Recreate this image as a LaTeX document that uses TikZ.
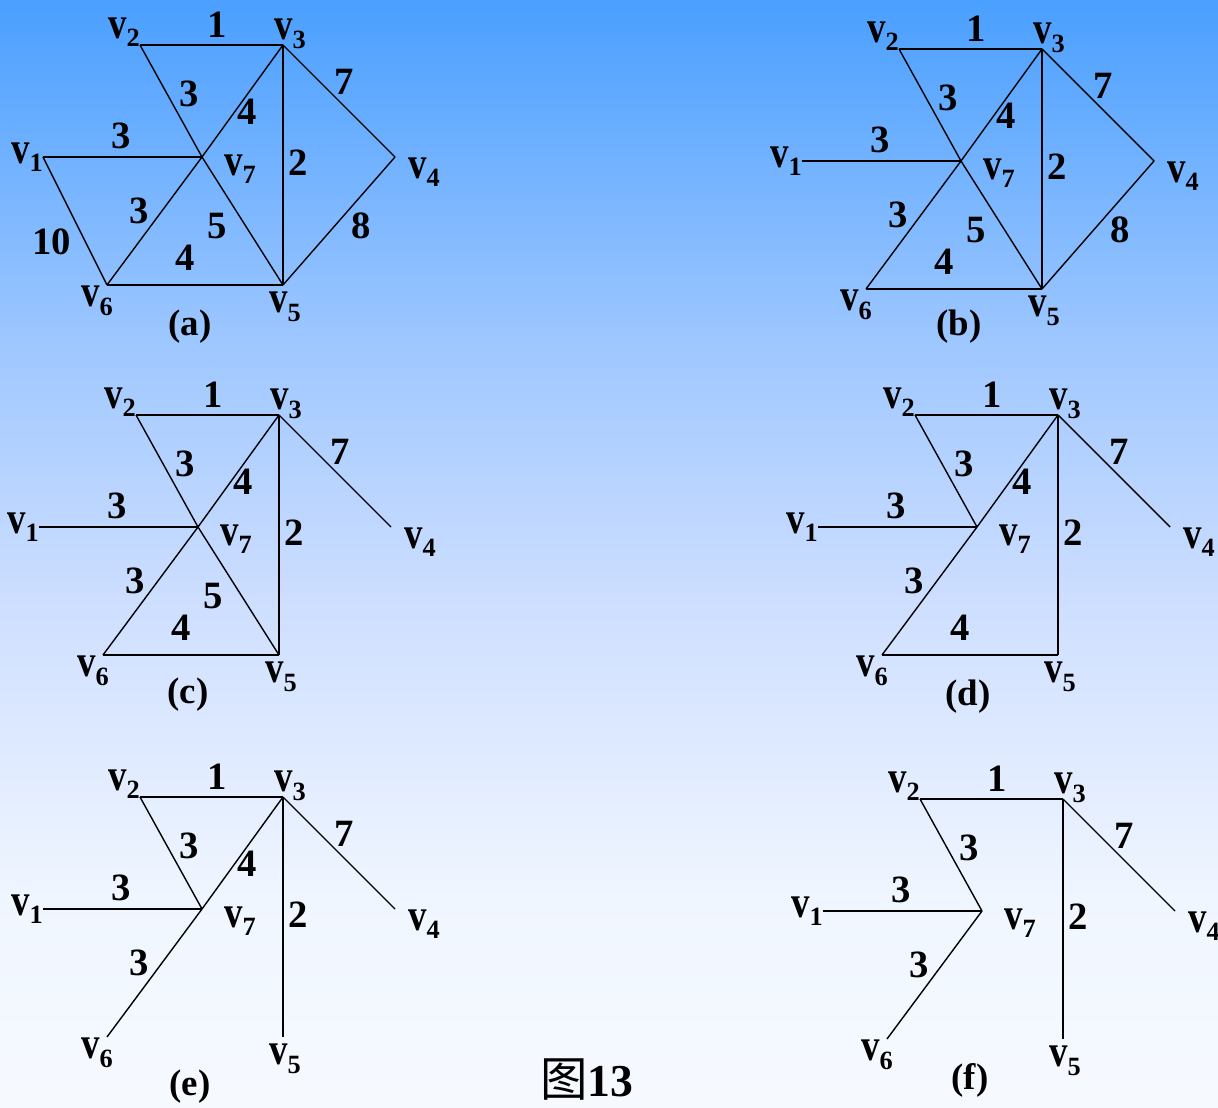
\documentclass[tikz,border=0pt]{standalone}
\usepackage{fontspec}
\setmainfont{Liberation Serif}
\newfontfamily\cjk{Noto Sans CJK SC}
\usepackage{tikz}
\usetikzlibrary{calc}
\definecolor{ink}{RGB}{0,0,0}
\definecolor{bgtop}{RGB}{74,159,255}
\definecolor{bg2}{RGB}{160,200,255}
\definecolor{bg3}{RGB}{205,222,255}
\definecolor{bg4}{RGB}{240,246,255}
\definecolor{bgbot}{RGB}{246,250,255}
\pgfdeclareverticalshading{skyfade}{100bp}{color(0bp)=(bgbot); color(25bp)=(bgbot); color(34.5bp)=(bg4); color(48bp)=(bg3); color(59.2bp)=(bg2); color(75bp)=(bgtop); color(100bp)=(bgtop)}
\tikzset{
  edge/.style={line width=0.8pt,draw=ink},
  vname/.style={inner sep=0pt,font=\bfseries\fontsize{21}{21}\selectfont},
  weight/.style={inner sep=0pt,font=\bfseries\fontsize{22}{22}\selectfont},
  caption/.style={inner sep=0pt,font=\bfseries\fontsize{21}{21}\selectfont}
}
% vertex name with a lowered subscript
\newcommand{\vsub}[1]{\scalebox{1}[1.22]{v}\raisebox{-0.5ex}{\fontsize{15}{15}\selectfont #1}}
% the seven vertices of one panel, names prefixed by #1
\newcommand{\vertices}[1]{%
  \coordinate (#1v1) at (43,157);
  \coordinate (#1v2) at (140,45);
  \coordinate (#1v3) at (283,45);
  \coordinate (#1v4) at (395,157);
  \coordinate (#1v5) at (283,285);
  \coordinate (#1v6) at (107,285);
  \coordinate (#1v7) at (202,157);
  \node[vname] (#1l1) at (27,157) {\vsub{1}};
  \node[vname] (#1l2) at (124,32) {\vsub{2}};
  \node[vname] (#1l3) at (290,34) {\vsub{3}};
  \node[vname] (#1l4) at (424,172) {\vsub{4}};
  \node[vname] (#1l5) at (285,307) {\vsub{5}};
  \node[vname] (#1l6) at (97,301) {\vsub{6}};
  \node[vname] (#1l7) at (240,169) {\vsub{7}};
}
% edge #2--#3 of panel #1, weight #5 written at #4
\newcommand{\edgew}[5]{%
  \draw[edge] (#1v#2) -- (#1v#3);
  \node[weight] (#1w#2#3) at (#4) {#5};
}

\begin{document}
\begin{tikzpicture}[x=0.02cm,y=-0.02cm]
  \useasboundingbox (0,0) rectangle (1218,1108);
  \fill[shading=skyfade] (0,0) rectangle (1218,1108);

  % (a) the whole graph
  \begin{scope}[shift={(0,0)}]
    \vertices{a}
    \edgew{a}{2}{3}{217,25}{1}
    \edgew{a}{2}{7}{189,94}{3}
    \edgew{a}{3}{7}{247,112}{4}
    \edgew{a}{3}{4}{344,82}{7}
    \edgew{a}{1}{7}{121,136}{3}
    \edgew{a}{3}{5}{298,163}{2}
    \edgew{a}{6}{7}{139,211}{3}
    \edgew{a}{5}{7}{217,226}{5}
    \edgew{a}{4}{5}{361,226}{8}
    \edgew{a}{1}{6}{52,242}{10}
    \edgew{a}{5}{6}{185,258}{4}
    \node[caption] (acap) at (190,327) {(a)};
  \end{scope}

  % (b)
  \begin{scope}[shift={(759,4)}]
    \vertices{b}
    \edgew{b}{2}{3}{217,25}{1}
    \edgew{b}{2}{7}{189,94}{3}
    \edgew{b}{3}{7}{247,112}{4}
    \edgew{b}{3}{4}{344,82}{7}
    \edgew{b}{1}{7}{121,136}{3}
    \edgew{b}{3}{5}{298,163}{2}
    \edgew{b}{6}{7}{139,211}{3}
    \edgew{b}{5}{7}{217,226}{5}
    \edgew{b}{4}{5}{361,226}{8}
    \edgew{b}{5}{6}{185,258}{4}
    \node[caption] (bcap) at (200,323) {(b)};
  \end{scope}

  % (c)
  \begin{scope}[shift={(-4,370)}]
    \vertices{c}
    \edgew{c}{2}{3}{217,25}{1}
    \edgew{c}{2}{7}{189,94}{3}
    \edgew{c}{3}{7}{247,112}{4}
    \edgew{c}{3}{4}{344,82}{7}
    \edgew{c}{1}{7}{121,136}{3}
    \edgew{c}{3}{5}{298,163}{2}
    \edgew{c}{6}{7}{139,211}{3}
    \edgew{c}{5}{7}{217,226}{5}
    \edgew{c}{5}{6}{185,258}{4}
    \node[caption] (ccap) at (192,325) {(c)};
  \end{scope}

  % (d)
  \begin{scope}[shift={(775,370)}]
    \vertices{d}
    \edgew{d}{2}{3}{217,25}{1}
    \edgew{d}{2}{7}{189,94}{3}
    \edgew{d}{3}{7}{247,112}{4}
    \edgew{d}{3}{4}{344,82}{7}
    \edgew{d}{1}{7}{121,136}{3}
    \edgew{d}{3}{5}{298,163}{2}
    \edgew{d}{6}{7}{139,211}{3}
    \edgew{d}{5}{6}{185,258}{4}
    \node[caption] (dcap) at (193,327) {(d)};
  \end{scope}

  % (e)
  \begin{scope}[shift={(0,752)}]
    \vertices{e}
    \edgew{e}{2}{3}{217,25}{1}
    \edgew{e}{2}{7}{189,94}{3}
    \edgew{e}{3}{7}{247,112}{4}
    \edgew{e}{3}{4}{344,82}{7}
    \edgew{e}{1}{7}{121,136}{3}
    \edgew{e}{3}{5}{298,163}{2}
    \edgew{e}{6}{7}{139,211}{3}
    \node[caption] (ecap) at (190,335) {(e)};
  \end{scope}

  % (f) the minimum spanning tree
  \begin{scope}[shift={(780,754)}]
    \vertices{f}
    \edgew{f}{2}{3}{217,25}{1}
    \edgew{f}{2}{7}{189,94}{3}
    \edgew{f}{3}{4}{344,82}{7}
    \edgew{f}{1}{7}{121,136}{3}
    \edgew{f}{3}{5}{298,163}{2}
    \edgew{f}{6}{7}{139,211}{3}
    \node[caption] (fcap) at (190,326) {(f)};
  \end{scope}

  \node[inner sep=0pt] (title) at (587,1080) {{\cjk\fontsize{27}{27}\selectfont 图}{\bfseries\fontsize{26}{26}\selectfont 13}};
\end{tikzpicture}
\end{document}
